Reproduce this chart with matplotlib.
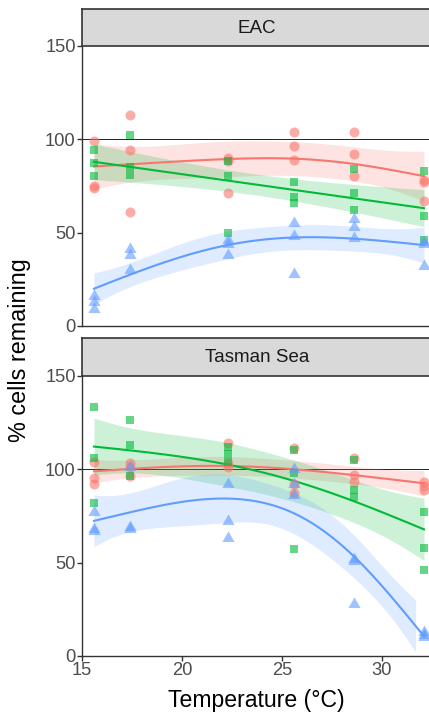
import math
import numpy as np
import matplotlib
matplotlib.use("Agg")
import matplotlib.pyplot as plt

plt.rcParams['font.family'] = ['Liberation Sans', 'DejaVu Sans']

# ---------------- data ----------------
temps = [15.6, 17.4, 22.3, 25.6, 28.6, 32.1]
panels = ["EAC", "Tasman Sea"]
groups = ["red", "green", "blue"]

# three replicates per temperature (order follows temps)
eac_red = [[99, 75, 74], [113, 94, 61], [90, 88, 71], [104, 96, 89], [104, 92, 80], [78, 77, 67]]
eac_green = [[94, 87, 80], [102, 85, 81], [88, 80, 50], [77, 69, 66], [84, 71, 62], [83, 59, 46]]
eac_blue = [[16, 13, 9], [41, 38, 30], [46, 44, 38], [55, 48, 28], [57, 53, 47], [45, 44, 32]]

tas_red = [[104, 95, 92], [103, 101, 96], [114, 103, 101], [111, 92, 87], [106, 97, 93], [93, 91, 89]]
tas_green = [[133, 106, 82], [126, 113, 96], [112, 108, 104], [110, 98, 57], [105, 89, 85], [77, 58, 46]]
tas_blue = [[77, 68, 67], [101, 69, 68], [92, 72, 63], [100, 92, 86], [52, 51, 28], [13, 11, 10]]

x_ticks = [15, 20, 25, 30]
y_ticks = [0, 50, 100, 150]

colors = {"red": "#F8766D", "green": "#00BA38", "blue": "#619CFF"}
tri = [(-1.0, -0.57735), (1.0, -0.57735), (0.0, 1.1547), (-1.0, -0.57735)]
markers = {"red": ("o", 7.2), "green": ("s", 6.0), "blue": (tri, 10.2)}

data = {
    "EAC": {"red": eac_red, "green": eac_green, "blue": eac_blue},
    "Tasman Sea": {"red": tas_red, "green": tas_green, "blue": tas_blue},
}

K_BASIS = 4


# ---------------- thin-plate regression spline (mgcv style), REML smoothing ----------------
def gam_fit(x, y, xs, k=K_BASIS):
    x = np.asarray(x, float)
    y = np.asarray(y, float)
    n = len(x)
    c = x.mean()
    knots = np.unique(x) - c
    eta = lambda a, b: np.abs(a[:, None] - b[None, :]) ** 3 / 12.0
    E = eta(knots, knots)
    dvals, U = np.linalg.eigh(E)
    idx = np.argsort(-np.abs(dvals))[:k]
    Uk, Dk = U[:, idx], dvals[idx]
    T = np.column_stack([np.ones(len(knots)), knots])
    Qf, _ = np.linalg.qr(Uk.T @ T, mode="complete")
    Z = Qf[:, 2:]
    Sp = Z.T @ np.diag(Dk) @ Z
    Sp = (Sp + Sp.T) / 2
    r = Z.shape[1]
    p = r + 2
    S = np.zeros((p, p))
    S[:r, :r] = Sp

    def basis(z):
        z = np.asarray(z, float) - c
        return np.column_stack([eta(z, knots) @ Uk @ Z, np.ones(len(z)), z])

    X = basis(x)
    XtX = X.T @ X
    Xty = X.T @ y
    ldS = np.sum(np.log(np.abs(np.linalg.eigvalsh(Sp))))
    best = None
    for ll in np.linspace(-14, 14, 2801):
        lam = math.exp(ll)
        A = XtX + lam * S
        b = np.linalg.solve(A, Xty)
        res = y - X @ b
        pen = res @ res + lam * b @ S @ b
        sign, ld = np.linalg.slogdet(A)
        crit = (n - 2) * math.log(pen) + ld - r * ll - ldS
        if best is None or crit < best[0]:
            best = (crit, lam)
    lam = best[1]
    A = XtX + lam * S
    Ai = np.linalg.inv(A)
    b = Ai @ Xty
    res = y - X @ b
    edf = np.trace(Ai @ XtX)
    sig2 = (res @ res) / (n - edf)
    Xp = basis(xs)
    fit = Xp @ b
    se = np.sqrt(np.einsum("ij,jk,ik->i", Xp, Ai * sig2, Xp))
    return fit, fit - 1.959964 * se, fit + 1.959964 * se


# ---------------- figure ----------------
W, H = 429, 715
fig = plt.figure(figsize=(W / 100, H / 100), dpi=100)

left_px, right_px = 82, 432
panel_px = [(9, 45.5, 326), (338, 375.5, 656)]  # strip top, plot top, plot bottom


def fx(px):
    return px / W


def fy(py):
    return 1 - py / H


for i, (pname, (s_top, p_top, p_bot)) in enumerate(zip(panels, panel_px)):
    ax = fig.add_axes([fx(left_px), fy(p_bot), fx(right_px - left_px), (p_bot - p_top) / H])
    sax = fig.add_axes([fx(left_px), fy(p_top), fx(right_px - left_px), (p_top - s_top) / H])
    sax.set_facecolor("#D9D9D9")
    sax.set_xticks([])
    sax.set_yticks([])
    for sp in sax.spines.values():
        sp.set_color("#333333")
        sp.set_linewidth(1.2)
    sax.text(0.5, 0.47, pname, ha="center", va="center", fontsize=13.5, color="#1A1A1A",
             transform=sax.transAxes)

    ax.axhline(100, color="#222222", lw=0.7, zorder=1)

    xs = np.linspace(min(temps), max(temps), 80)
    for g in groups:
        reps = data[pname][g]
        xv = np.repeat(temps, [len(r) for r in reps])
        yv = np.concatenate([np.asarray(r, float) for r in reps])
        fit, lo, hi = gam_fit(xv, yv, xs)
        ok = (lo >= 0) & (hi <= 150)
        ax.fill_between(xs[ok], lo[ok], hi[ok], color=colors[g], alpha=0.2, lw=0, zorder=2)
        ax.plot(xs, fit, color=colors[g], lw=1.5, zorder=3)
        m, ms = markers[g]
        ax.plot(xv, yv, linestyle="none", marker=m, markersize=ms, color=colors[g],
                alpha=0.6, markeredgewidth=0, zorder=4)

    ax.set_xlim(15, 32.5)
    ax.set_ylim(0, 150)
    ax.set_yticks(y_ticks)
    ax.set_xticks(x_ticks)
    ax.spines["top"].set_visible(False)
    ax.spines["right"].set_visible(False)
    for sp in ("left", "bottom"):
        ax.spines[sp].set_color("#333333")
        ax.spines[sp].set_linewidth(1.0)
    ax.tick_params(axis="both", length=3.5, width=1.0, color="#333333", labelcolor="#4D4D4D",
                   labelsize=13.2, pad=1.0)
    if i == 0:
        ax.tick_params(axis="x", length=0, labelbottom=False)
    ax.set_facecolor("white")

fig.text(fx(20), fy(350), "% cells remaining", rotation=90, ha="center", va="center",
         fontsize=16.8, color="black")
fig.text(fx(256), fy(700), "Temperature (°C)", ha="center", va="center", fontsize=16.6,
         color="black")

fig.savefig("out.png", dpi=100)
